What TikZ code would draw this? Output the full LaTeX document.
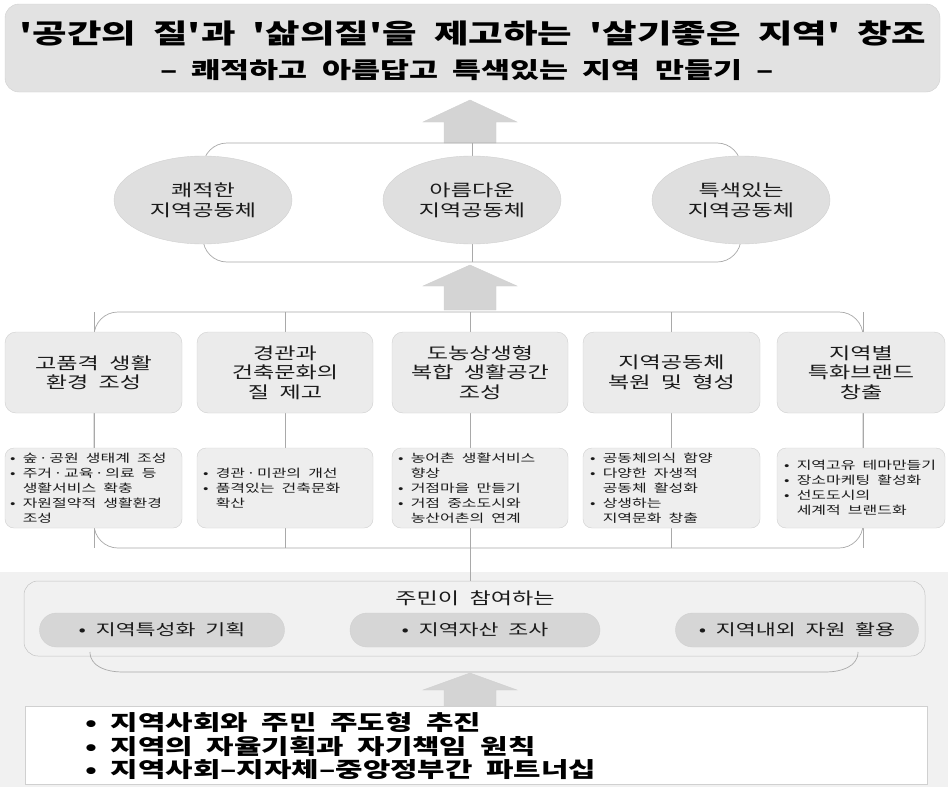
\documentclass[tikz,border=0pt]{standalone}
\usepackage{fontspec}
\setmainfont{Noto Sans CJK KR}[FakeStretch=1.4,WordSpace=2,Ligatures=TeXOff]
\usetikzlibrary{shapes.geometric}
\definecolor{titlefill}{HTML}{E2E2E2}
\definecolor{ellfill}{HTML}{DFDFDF}
\definecolor{hfill}{HTML}{EBEBEB}
\definecolor{dfill}{HTML}{EEEEEE}
\definecolor{pillfill}{HTML}{D6D6D6}
\definecolor{bandfill}{HTML}{F1F1F1}
\definecolor{arrfill}{HTML}{D4D4D4}
\definecolor{linecol}{HTML}{A9A9A9}
\definecolor{edgecol}{HTML}{D0D0D0}
\definecolor{txt}{HTML}{1A1A1A}
\newcommand\md{\kern1.5pt·\kern1.5pt}
\begin{document}
\begin{tikzpicture}[x=1pt,y=-1pt,
  every node/.style={text=txt},
  frame/.style={draw=linecol,line width=0.7pt,rounded corners=24pt},
  conn/.style={draw=linecol,line width=0.7pt},
  blockarrow/.style={fill=arrfill,draw=edgecol,line width=0.4pt},
  ell/.style={ellipse,fill=ellfill,draw=edgecol,line width=0.4pt,minimum width=178pt,minimum height=88pt,inner sep=0pt,align=center,font=\fontsize{16.5}{20}\selectfont},
  hbox/.style={rectangle,rounded corners=11pt,fill=hfill,draw=edgecol,line width=0.4pt,minimum height=81pt,inner sep=0pt,align=center,font=\fontsize{16.5}{19.5}\selectfont},
  dbox/.style={rectangle,rounded corners=9pt,fill=dfill,draw=edgecol,line width=0.4pt,minimum height=80pt,inner sep=0pt},
  dtext/.style={anchor=west,align=left,inner sep=0pt,font=\fontsize{11.4}{15}\selectfont},
  pill/.style={rectangle,rounded corners=17pt,fill=pillfill,draw=edgecol,line width=0.4pt,minimum height=34pt,inner sep=0pt,font=\fontsize{15.5}{18}\selectfont},
  btext/.style={anchor=west,inner sep=0pt,font=\fontsize{21.3}{24}\selectfont\bfseries,text=black}
]
\useasboundingbox (0,0) rectangle (948,787);
\fill[white] (0,0) rectangle (948,787);

% ---------- title ----------
\node[rectangle,rounded corners=14pt,fill=titlefill,draw=edgecol,line width=0.4pt,minimum width=935pt,minimum height=88pt] (titlebox) at (472.5,48) {};
\node[font=\fontsize{26.8}{30}\selectfont\bfseries,text=black,inner sep=0pt] (title1) at (473,33) {'공간의 질'과 '삶의질'을 제고하는 '살기좋은 지역' 창조};
\node[font=\fontsize{22.5}{26}\selectfont\bfseries,text=black,inner sep=0pt] (title2) at (467,70) {– 쾌적하고 아름답고 특색있는 지역 만들기 –};

% ---------- arrow 1 ----------
\path[blockarrow] (444,143) -- (444,122) -- (423,122) -- (470,100) -- (517,122) -- (496,122) -- (496,143) -- cycle;

% ---------- frame 1 ----------
\draw[frame] (203,143) rectangle (741,262);
\coordinate (f1top) at (472,143);
\coordinate (f1bot) at (472,262);
\draw[conn] (f1top) -- (f1bot);
\node[ell] (e1) at (203,200) {쾌적한\\지역공동체};
\node[ell] (e2) at (472,200) {아름다운\\지역공동체};
\node[ell] (e3) at (741,200) {특색있는\\지역공동체};

% ---------- arrow 2 ----------
\path[blockarrow] (444,310) -- (444,286) -- (423,286) -- (470,265) -- (517,286) -- (496,286) -- (496,310) -- cycle;

% ---------- frame 2 ----------
\draw[frame] (94,312) rectangle (863,548);
\foreach \n/\x in {a/94,b/285,c/470,d/671,e/863}{
  \coordinate (t\n) at (\x,312);
  \coordinate (u\n) at (\x,548);
  \draw[conn] (t\n) -- (u\n);
}

\node[hbox,minimum width=177pt] (h1) at (93.5,372.5) {고품격 생활\\환경 조성};
\node[hbox,minimum width=176pt] (h2) at (285,372.5) {경관과\\건축문화의\\질 제고};
\node[hbox,minimum width=176pt] (h3) at (480,372.5) {도농상생형\\복합 생활공간\\조성};
\node[hbox,minimum width=177pt] (h4) at (671.5,372.5) {지역공동체\\복원 및 형성};
\node[hbox,minimum width=168pt] (h5) at (861,372.5) {지역별\\특화브랜드\\창출};

\node[dbox,minimum width=177pt] (d1) at (93.5,488) {};
\node[dbox,minimum width=176pt] (d2) at (285,488) {};
\node[dbox,minimum width=176pt] (d3) at (480,488) {};
\node[dbox,minimum width=177pt] (d4) at (671.5,488) {};
\node[dbox,minimum width=168pt] (d5) at (861,488) {};

\node[dtext] (dt1) at (10,488) {• 숲\md 공원 생태계 조성\\• 주거\md 교육\md 의료 등\\\phantom{• }생활서비스 확충\\• 자원절약적 생활환경\\\phantom{• }조성};
\node[dtext] (dt2) at (203,488) {• 경관\md 미관의 개선\\• 품격있는 건축문화\\\phantom{• }확산};
\node[dtext] (dt3) at (398,488) {• 농어촌 생활서비스\\\phantom{• }향상\\• 거점마을 만들기\\• 거점 중소도시와\\\phantom{• }농산어촌의 연계};
\node[dtext] (dt4) at (590,488) {• 공동체의식 함양\\• 다양한 자생적\\\phantom{• }공동체 활성화\\• 상생하는\\\phantom{• }지역문화 창출};
\node[dtext] (dt5) at (784,488) {• 지역고유 테마만들기\\• 장소마케팅 활성화\\• 선도도시의\\\phantom{• }세계적 브랜드화};

% ---------- bottom band ----------
\fill[bandfill] (0,572) rectangle (948,787);
\coordinate (f2bot) at (470,548);
\coordinate (f3top) at (470,581);
\draw[conn] (f2bot) -- (f3top);
\draw[draw=linecol!70,line width=0.5pt,rounded corners=14pt] (24,581) rectangle (925,656);
\draw[conn] (90,652) to[out=-90,in=180] (122,672) -- (826,672) to[out=0,in=-90] (858,652);

\node[font=\fontsize{16.5}{19}\selectfont,inner sep=0pt] (jumin) at (475,598) {주민이 참여하는};
\node[pill,minimum width=245pt] (p1) at (162,630) {• 지역특성화 기획};
\node[pill,minimum width=250pt] (p2) at (475,630) {• 지역자산 조사};
\node[pill,minimum width=243pt] (p3) at (797,630) {• 지역내외 자원 활용};

% ---------- arrow 3 ----------
\path[blockarrow] (444,706) -- (444,690) -- (423,690) -- (470,673) -- (517,690) -- (496,690) -- (496,706) -- cycle;

% ---------- bottom white box ----------
\node[rectangle,fill=white,draw=edgecol,line width=0.3pt,minimum width=902pt,minimum height=78pt,inner sep=0pt] (wbox) at (476,745) {};
\node[btext] (b1) at (85,722) {• 지역사회와 주민 주도형 추진};
\node[btext] (b2) at (85,746) {• 지역의 자율기획과 자기책임 원칙};
\node[btext] (b3) at (85,770) {• 지역사회–지자체–중앙정부간 파트너십};
\end{tikzpicture}
\end{document}
